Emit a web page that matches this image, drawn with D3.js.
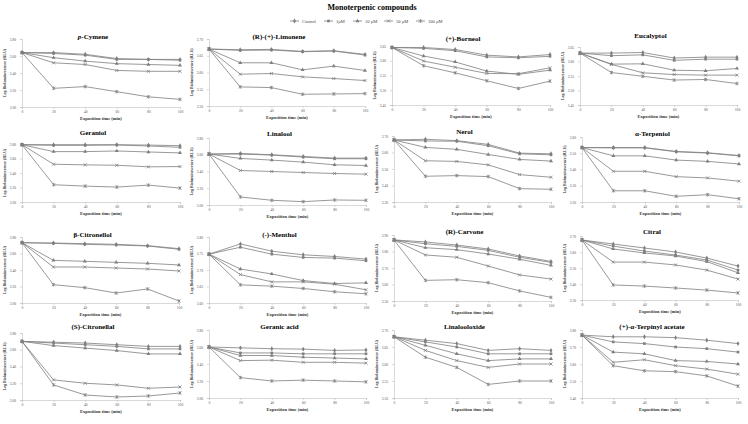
<!DOCTYPE html>
<html><head><meta charset="utf-8">
<script src="https://cdn.jsdelivr.net/npm/d3@7"></script>
<style>body{margin:0;background:#fff}svg{display:block}</style>
</head><body><svg id="c" width="748" height="424"></svg>
<script>
// ---------- data ----------
const xValues = [0, 20, 40, 60, 80, 100];
const seriesNames = ["Control", "1µM", "10 µM", "50 µM", "100 µM"];
const compounds = ["p-Cymene","(R)-(+)-Limonene","(+)-Borneol","Eucalyptol","Geraniol","Linalool","Nerol","α-Terpeniol","β-Citronellol","(-)-Menthol","(R)-Carvone","Citral","(S)-Citronellal","Geranic  acid","Linalooloxide","(+)-α-Terpinyl acetate"];

const pCymene   = [[3.64,3.64,3.62,3.57,3.56,3.56],[3.64,3.63,3.61,3.56,3.56,3.55],[3.64,3.58,3.54,3.51,3.50,3.49],[3.64,3.52,3.50,3.43,3.42,3.42],[3.64,3.22,3.24,3.18,3.12,3.09]];
const limonene  = [[3.670,3.668,3.669,3.663,3.665,3.654],[3.670,3.666,3.667,3.662,3.664,3.652],[3.670,3.629,3.629,3.608,3.619,3.606],[3.670,3.595,3.597,3.587,3.582,3.576],[3.670,3.557,3.555,3.535,3.536,3.537]];
const borneol   = [[3.645,3.645,3.638,3.619,3.613,3.621],[3.645,3.642,3.634,3.613,3.610,3.615],[3.645,3.616,3.596,3.565,3.554,3.568],[3.645,3.599,3.578,3.557,3.556,3.576],[3.645,3.583,3.559,3.532,3.506,3.531]];
const eucalyptol= [[3.629,3.629,3.631,3.612,3.615,3.615],[3.629,3.620,3.623,3.604,3.608,3.608],[3.629,3.591,3.592,3.570,3.568,3.576],[3.629,3.590,3.561,3.555,3.553,3.553],[3.629,3.562,3.549,3.536,3.538,3.524]];
const geraniol  = [[3.79,3.79,3.79,3.79,3.785,3.777],[3.79,3.782,3.782,3.786,3.773,3.754],[3.79,3.695,3.695,3.704,3.690,3.677],[3.79,3.521,3.512,3.507,3.485,3.489],[3.79,3.238,3.219,3.206,3.233,3.192]];
const linalool  = [[3.608,3.616,3.600,3.580,3.560,3.560],[3.608,3.608,3.596,3.572,3.552,3.552],[3.608,3.556,3.536,3.512,3.480,3.472],[3.608,3.412,3.400,3.388,3.376,3.368],[3.608,3.096,3.056,3.040,3.060,3.056]];
const nerol     = [[3.676,3.680,3.672,3.649,3.596,3.592],[3.676,3.670,3.668,3.641,3.592,3.586],[3.676,3.631,3.619,3.588,3.558,3.548],[3.676,3.550,3.546,3.525,3.466,3.450],[3.676,3.456,3.460,3.454,3.381,3.377]];
const terpineol = [[3.535,3.535,3.535,3.511,3.503,3.486],[3.535,3.533,3.533,3.509,3.501,3.484],[3.535,3.484,3.484,3.458,3.450,3.434],[3.535,3.389,3.389,3.356,3.348,3.328],[3.535,3.269,3.269,3.235,3.245,3.220]];
const citronellol=[[3.731,3.727,3.719,3.711,3.695,3.659],[3.731,3.723,3.711,3.703,3.691,3.651],[3.731,3.517,3.505,3.493,3.481,3.461],[3.731,3.436,3.436,3.424,3.412,3.388],[3.731,3.222,3.186,3.121,3.170,3.024]];
const menthol   = [[3.748,3.779,3.757,3.746,3.741,3.733],[3.748,3.769,3.748,3.738,3.736,3.728],[3.748,3.703,3.688,3.668,3.659,3.661],[3.748,3.686,3.664,3.664,3.657,3.640],[3.748,3.655,3.651,3.644,3.634,3.628]];
const carvone   = [[3.870,3.858,3.839,3.815,3.773,3.740],[3.870,3.847,3.831,3.807,3.765,3.734],[3.870,3.823,3.811,3.785,3.753,3.716],[3.870,3.779,3.765,3.712,3.658,3.633],[3.870,3.625,3.629,3.611,3.561,3.522]];
const citral    = [[3.675,3.650,3.625,3.600,3.562,3.512],[3.675,3.637,3.606,3.581,3.550,3.487],[3.675,3.619,3.594,3.575,3.540,3.470],[3.675,3.537,3.537,3.519,3.487,3.431],[3.675,3.394,3.387,3.375,3.362,3.344]];
const citronellal=[[3.70,3.69,3.68,3.66,3.64,3.64],[3.70,3.68,3.66,3.64,3.61,3.61],[3.70,3.65,3.62,3.59,3.55,3.55],[3.70,3.24,3.20,3.18,3.14,3.155],[3.70,3.18,3.06,3.036,3.048,3.084]];
const geranicAcid=[[3.60,3.59,3.58,3.575,3.56,3.565],[3.60,3.53,3.53,3.52,3.52,3.52],[3.60,3.50,3.50,3.48,3.47,3.46],[3.60,3.44,3.445,3.42,3.42,3.41],[3.60,3.24,3.20,3.21,3.20,3.19]];
const linalooloxide=[[3.68,3.67,3.66,3.64,3.645,3.64],[3.68,3.665,3.65,3.63,3.63,3.63],[3.68,3.655,3.63,3.61,3.615,3.615],[3.68,3.64,3.61,3.59,3.60,3.60],[3.68,3.62,3.59,3.54,3.55,3.55]];
const terpinylAcetate=[[3.77,3.76,3.76,3.755,3.74,3.72],[3.77,3.73,3.72,3.70,3.69,3.67],[3.77,3.67,3.66,3.62,3.615,3.60],[3.77,3.61,3.625,3.59,3.57,3.54],[3.77,3.59,3.56,3.555,3.53,3.47]];

const yTicksA = [3.00, 3.20, 3.40, 3.60, 3.80];
const yTicksLim = [3.50, 3.55, 3.60, 3.65, 3.70];
const yTicksBor = [3.45, 3.50, 3.55, 3.60, 3.65];
const yTicksNer = [3.30, 3.40, 3.50, 3.60, 3.70];
const yTicksTer = [3.20, 3.30, 3.40, 3.50, 3.60];
const yTicksMen = [3.60, 3.65, 3.70, 3.75, 3.80];
const yTicksCar = [3.50, 3.60, 3.70, 3.80, 3.90];
const yTicksCit = [3.30, 3.40, 3.50, 3.60, 3.70];
const yTicksLox = [3.50, 3.55, 3.60, 3.65, 3.70];
const yTicksTac = [3.40, 3.50, 3.60, 3.70, 3.80];
const xTickLabels = ["0", "20", "40", "60", "80", "100"];

const panelData = [pCymene, limonene, borneol, eucalyptol, geraniol, linalool, nerol, terpineol, citronellol, menthol, carvone, citral, citronellal, geranicAcid, linalooloxide, terpinylAcetate];
const panelTicks = [yTicksA, yTicksLim, yTicksBor, yTicksBor, yTicksA, yTicksA, yTicksNer, yTicksTer, yTicksA, yTicksMen, yTicksCar, yTicksCit, yTicksA, yTicksA, yTicksLox, yTicksTac];

// ---------- layout ----------
const layout = [
  [22,180,39,107,36],[209,365,39,106,36],[392,550,46,105,38],[580,737,47,105,35],
  [22,180,144,202,132],[209,366,138,205,133],[394,551,136,202,131],[582,739,137,202,133],
  [22,179,237,303,234],[209,366,237,303,234],[394,551,235,301,231],[582,738,236,300,231],
  [22,180,333,400,326],[209,366,330,398,326],[394,551,330,398,326],[582,738,330,398,326]
];

const svg = d3.select("#c");
const gray = "#7f7f7f";
const font = "Liberation Serif, Times New Roman, serif";

svg.append("text").attr("x", 372).attr("y", 10).attr("text-anchor","middle")
  .attr("font-family", font).attr("font-weight","bold").attr("font-size", 8).text("Monoterpenic compounds");

const symbols = [d3.symbolDiamond, d3.symbolSquare, d3.symbolTriangle];
function marker(g, i, x, y) {
  if (i === 3) {
    g.append("path").attr("d", `M${x-1.5},${y-1.5}L${x+1.5},${y+1.5}M${x-1.5},${y+1.5}L${x+1.5},${y-1.5}`).attr("stroke", gray).attr("stroke-width",0.8);
  } else if (i === 4) {
    g.append("path").attr("d", `M${x-1.5},${y-1.5}L${x+1.5},${y+1.5}M${x-1.5},${y+1.5}L${x+1.5},${y-1.5}M${x},${y-1.8}L${x},${y+1.8}`).attr("stroke", gray).attr("stroke-width",0.8);
  } else {
    g.append("path").attr("d", d3.symbol().type(symbols[i]).size(7)()).attr("transform", `translate(${x},${y})`).attr("fill", gray);
  }
}

// legend
const legX = [290, 324, 353, 384, 416];
seriesNames.forEach((n, i) => {
  const g = svg.append("g");
  g.append("line").attr("x1", legX[i]).attr("x2", legX[i]+9).attr("y1", 21).attr("y2", 21).attr("stroke", gray).attr("stroke-width", 0.8);
  marker(g, i, legX[i]+4.5, 21);
  g.append("text").attr("x", legX[i]+12).attr("y", 22.5).attr("font-family", font).attr("font-size", 4.5).attr("fill","#444").text(n);
});

panelData.forEach((data, p) => {
  const [x0, x1, yT, yB, tY] = layout[p];
  const ticks = panelTicks[p];
  const x = d3.scaleLinear().domain([0, 100]).range([x0, x1]);
  const y = d3.scaleLinear().domain([ticks[0], ticks[ticks.length-1]]).range([yB, yT]);
  const g = svg.append("g");

  const title = compounds[p];
  const tEl = g.append("text").attr("x", (x0 + x1) / 2 - 8).attr("y", tY + 2.5).attr("text-anchor", "middle")
    .attr("font-family", font).attr("font-weight", "bold").attr("font-size", 7);
  if (p === 0) { tEl.append("tspan").attr("font-style","italic").text("p"); tEl.append("tspan").text("-Cymene"); }
  else tEl.text(title);

  const yAxis = d3.axisLeft(y).tickValues(ticks).tickSize(2).tickFormat(d3.format(".2f"));
  const ya = g.append("g").attr("transform", `translate(${x0},0)`).call(yAxis);
  const xAxis = d3.axisBottom(x).tickValues(xValues).tickSize(2).tickFormat((d, i) => xTickLabels[i]);
  const xa = g.append("g").attr("transform", `translate(0,${yB})`).call(xAxis);
  [ya, xa].forEach(a => {
    a.selectAll("path,line").attr("stroke", "#bfbfbf").attr("stroke-width", 0.6);
    a.selectAll("text").attr("font-family", font).attr("font-size", 3.6).attr("fill", "#555");
  });
  ya.selectAll("text").attr("dx", "-1");
  xa.selectAll("text").attr("dy", "0.3em");

  g.append("text").attr("transform", `translate(${x0 - 16},${(yT + yB) / 2}) rotate(-90)`).attr("text-anchor","middle")
    .attr("font-family", font).attr("font-weight","bold").attr("font-size", 4).attr("fill","#333").text("Log Bioluminescence  (RLU)");
  g.append("text").attr("x", (x0 + x1) / 2).attr("y", yB + 13).attr("text-anchor","middle")
    .attr("font-family", font).attr("font-weight","bold").attr("font-size", 4.5).attr("fill","#333").text("Exposition time (min)");

  const line = d3.line().x((d, i) => x(xValues[i])).y(d => y(d));
  data.forEach((s, i) => {
    g.append("path").attr("d", line(s)).attr("fill", "none").attr("stroke", gray).attr("stroke-width", 0.8);
    s.forEach((v, j) => marker(g, i, x(xValues[j]), y(v)));
  });
});
</script></body></html>
